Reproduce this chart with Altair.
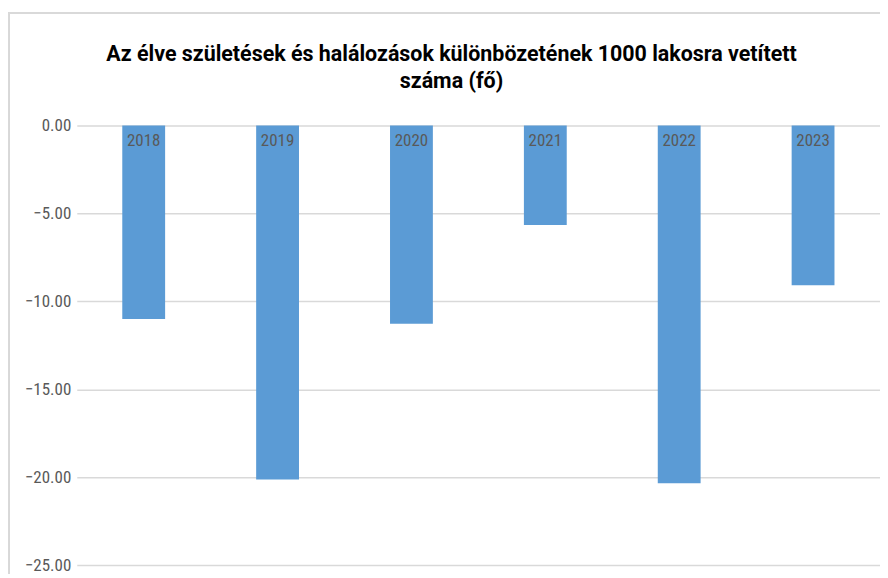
import altair as alt
import pandas as pd

years = ["2018", "2019", "2020", "2021", "2022", "2023"]
values = [-11.0, -20.14, -11.27, -5.65, -20.35, -9.08]
y_ticks = [0, -5, -10, -15, -20, -25]
title_lines = ["Az élve születések és halálozások különbözetének 1000 lakosra vetített", "száma (fő)"]

df = pd.DataFrame({"year": years, "value": values})

FONT = "Liberation Sans Narrow, Roboto Condensed, Roboto, sans-serif"
TFONT = "Roboto, sans-serif"
GRAY = "#595959"

x = alt.X("year:N", sort=years, axis=None,
          scale=alt.Scale(paddingInner=0.68, paddingOuter=0.34))

bars = alt.Chart(df).mark_bar(color="#5b9bd5").encode(
    x=x,
    y=alt.Y("value:Q", scale=alt.Scale(domain=[-25, 0], nice=False),
            axis=alt.Axis(values=y_ticks, format=".2f", title=None, ticks=False,
                          domain=False, labelFont=FONT, labelFontSize=17,
                          labelColor=GRAY, labelPadding=6, gridColor="#d9d9d9",
                          gridWidth=1.5)),
    y2=alt.datum(0),
)

labels = alt.Chart(df).mark_text(font=FONT, fontSize=17, color=GRAY,
                                 baseline="top", dy=8).encode(
    x=x,
    y=alt.datum(0),
    text="year:N",
)

border = alt.Chart(df).mark_rect(filled=False, stroke="#d9d9d9", strokeWidth=1.5,
                                 clip=False).encode(
    x=alt.value(-68), x2=alt.value(900), y=alt.value(-113), y2=alt.value(700)
)

t1 = alt.Chart(pd.DataFrame({"t": [title_lines[0]]})).mark_text(
    font=TFONT, fontSize=21.5, fontWeight="bold", color="#000000",
    align="center", baseline="alphabetic").encode(
    x=alt.value(376), y=alt.value(-64.3), text="t:N")

t2 = alt.Chart(pd.DataFrame({"t": [title_lines[1]]})).mark_text(
    font=TFONT, fontSize=21.5, fontWeight="bold", color="#000000",
    align="center", baseline="alphabetic").encode(
    x=alt.value(376), y=alt.value(-38), text="t:N")

chart = alt.layer(border, bars, labels, t1, t2).properties(
    width=806, height=441,
    padding={"left": 69, "top": 117, "right": 0, "bottom": 8},
    autosize=alt.AutoSizeParams(type="none"),
).configure_view(stroke=None)

chart.save("out.html", embed_options={"renderer": "svg", "actions": False})
